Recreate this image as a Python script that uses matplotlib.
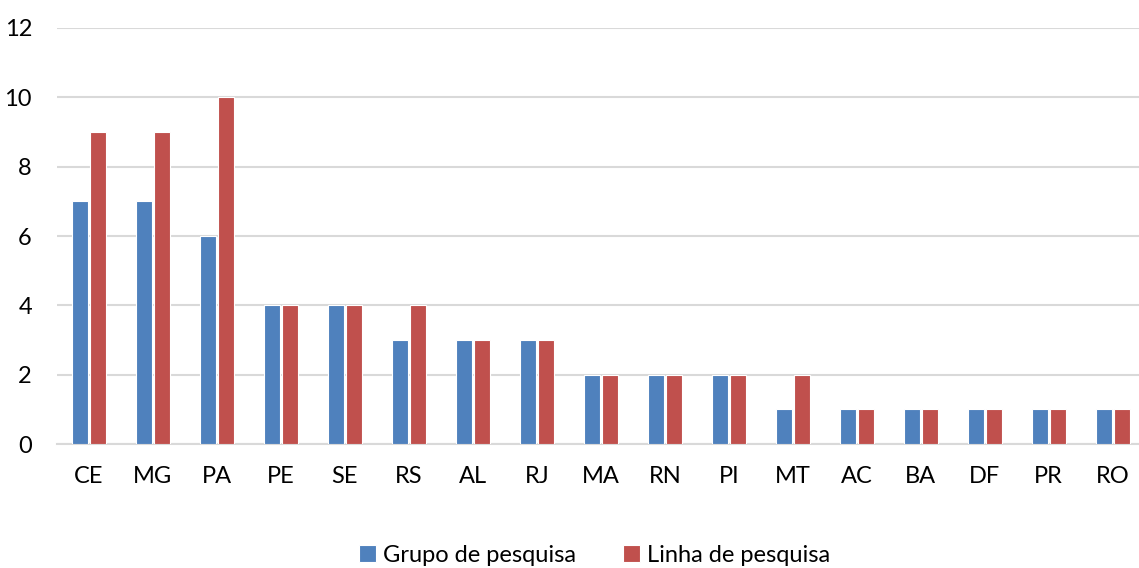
import numpy as np
import matplotlib
matplotlib.use("Agg")
import matplotlib.pyplot as plt

states = ["CE", "MG", "PA", "PE", "SE", "RS", "AL", "RJ", "MA",
          "RN", "PI", "MT", "AC", "BA", "DF", "PR", "RO"]
grupo = [7, 7, 6, 4, 4, 3, 3, 3, 2, 2, 2, 1, 1, 1, 1, 1, 1]
linha = [9, 9, 10, 4, 4, 4, 3, 3, 2, 2, 2, 2, 1, 1, 1, 1, 1]

plt.rcParams['font.family'] = ['Lato', 'DejaVu Sans']

fig = plt.figure(figsize=(11.39, 5.68), dpi=100)
ax = fig.add_axes([0.050, 0.218, 0.955, 0.733])

x = np.arange(len(states))
w = 0.25
ax.bar(x - 0.14, grupo, w, color='#4F81BD', edgecolor='white', linewidth=0.8,
       label='Grupo de pesquisa', zorder=3)
ax.bar(x + 0.14, linha, w, color='#C0504D', edgecolor='white', linewidth=0.8,
       label='Linha de pesquisa', zorder=3)

ax.set_xlim(-0.5, len(states) - 0.5)
ax.set_ylim(0, 12)
ax.set_yticks(range(0, 13, 2))
ax.set_xticks(x)
ax.set_xticklabels(states)
ax.yaxis.grid(True, color='#D9D9D9', linewidth=1.5, zorder=0)
ax.tick_params(axis='both', length=0, labelsize=17, colors='black')
ax.tick_params(axis='y', pad=18)
ax.tick_params(axis='x', pad=16)
for s in ['top', 'right', 'left']:
    ax.spines[s].set_visible(False)
ax.spines['bottom'].set_color('#D9D9D9')
ax.spines['bottom'].set_linewidth(1.5)

fig.legend(loc='center', bbox_to_anchor=(0.522, 0.022), ncol=2, frameon=False,
           fontsize=17, handlelength=0.7, handleheight=0.7, handletextpad=0.3,
           columnspacing=2.0)

fig.savefig('out.png', dpi=100)
